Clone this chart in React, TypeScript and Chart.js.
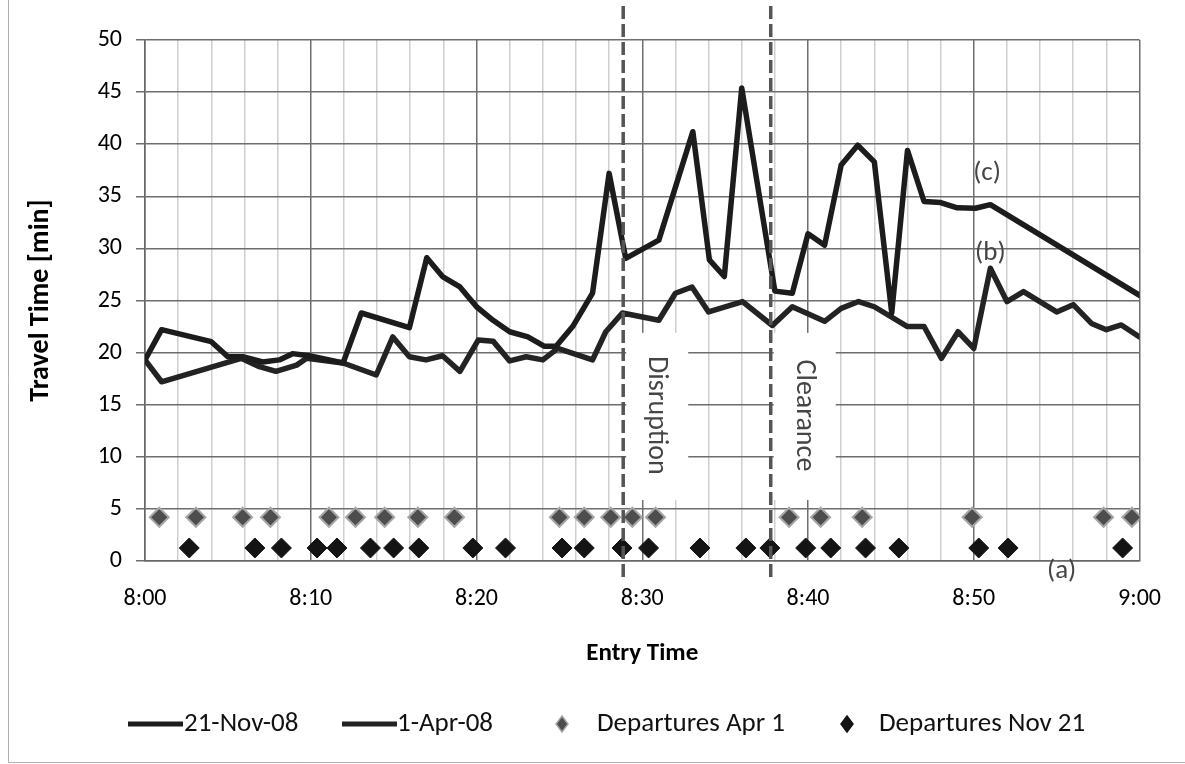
import React, { useEffect, useRef } from 'react';
import { Chart, registerables } from 'chart.js';

Chart.register(...registerables);

const FONT = "Carlito, Lato, 'Open Sans', sans-serif";

// Series names, in legend order
const seriesNames = ['21-Nov-08', '1-Apr-08', 'Departures Apr 1', 'Departures Nov 21'];

// Entry time (minutes after 8:00) and travel time (min), 21-Nov-08
const nov21Minutes = [0, 1.0, 4.0, 5.0, 5.9, 7.1, 8.1, 8.9, 9.9, 11.95, 13.05, 15.95, 17.0, 17.95, 19.0, 20.0, 21.0, 22.0, 23.1, 24.1, 24.8, 25.8, 27.0, 28.0, 29.0, 31.0, 33.05, 34.05, 34.95, 36.0, 38.0, 39.05, 40.0, 41.0, 42.0, 43.0, 44.0, 45.05, 46.0, 47.0, 48.0, 49.0, 50.1, 51.0, 60.0];
const nov21Travel = [19.3, 22.2, 21.05, 19.6, 19.6, 19.1, 19.3, 19.9, 19.7, 19.0, 23.8, 22.4, 29.1, 27.3, 26.3, 24.4, 23.1, 22.0, 21.5, 20.6, 20.6, 22.5, 25.7, 37.2, 29.05, 30.8, 41.2, 28.9, 27.3, 45.4, 25.9, 25.7, 31.4, 30.3, 38.0, 39.9, 38.3, 23.8, 39.4, 34.5, 34.4, 33.9, 33.85, 34.2, 25.5];

// Entry time (minutes after 8:00) and travel time (min), 1-Apr-08
const apr1Minutes = [0, 1.0, 5.8, 6.9, 7.9, 9.15, 9.75, 11.95, 13.95, 14.95, 15.95, 16.95, 17.95, 19.0, 20.1, 21.0, 22.0, 23.0, 24.0, 24.9, 27.0, 27.8, 28.8, 31.0, 32.0, 33.0, 34.0, 36.05, 37.85, 39.05, 41.0, 42.0, 43.05, 44.0, 46.0, 47.0, 48.05, 49.05, 50.0, 51.0, 52.0, 53.0, 55.0, 56.0, 57.1, 58.0, 58.9, 60.0];
const apr1Travel = [19.3, 17.2, 19.45, 18.65, 18.2, 18.8, 19.45, 19.0, 17.85, 21.5, 19.6, 19.3, 19.7, 18.2, 21.2, 21.1, 19.2, 19.6, 19.3, 20.4, 19.3, 22.0, 23.8, 23.1, 25.7, 26.3, 23.9, 24.9, 22.6, 24.4, 23.0, 24.25, 24.9, 24.4, 22.5, 22.5, 19.45, 22.0, 20.4, 28.1, 24.9, 25.85, 23.9, 24.6, 22.8, 22.2, 22.65, 21.5];

// Departure times (minutes after 8:00)
const departuresApr1 = [0.86, 3.07, 5.89, 7.57, 11.1, 12.7, 14.46, 16.46, 18.67, 25.0, 26.5, 28.1, 29.4, 30.8, 38.86, 40.76, 43.27, 49.9, 57.83, 59.54];
const departuresNov21 = [2.67, 6.63, 8.23, 10.38, 11.58, 13.6, 15.0, 16.52, 19.78, 21.75, 25.16, 26.5, 28.78, 30.38, 33.48, 36.25, 37.7, 39.86, 41.37, 43.47, 45.48, 50.3, 52.07, 58.98];
const departureLevelApr1 = 4.2;
const departureLevelNov21 = 1.25;

// Axis labels
const xTickLabels = ['8:00', '8:10', '8:20', '8:30', '8:40', '8:50', '9:00'];
const xTitle = 'Entry Time';
const yTitle = 'Travel Time [min]';

// Incident events (minutes after 8:00)
const eventNames = ['Disruption', 'Clearance'];
const eventMinutes = [28.85, 37.75];

// Curve tags
const tagTexts = ['(c)', '(b)', '(a)'];
const tagMinutes = [50.8, 51.0, 55.3];
const tagValues = [37.2, 29.5, -1.0];

const toPoints = (xs: number[], ys: number[]) => xs.map((x, i) => ({ x, y: ys[i] }));

const overlayPlugin = {
  id: 'overlay',
  beforeDatasetsDraw(chart: any) {
    const { ctx, scales } = chart;
    const x = scales.x;
    const y = scales.y;
    const top = y.getPixelForValue(21.9);
    const bottom = y.getPixelForValue(5.85);
    ctx.save();
    eventMinutes.forEach((m, i) => {
      const px = x.getPixelForValue(m);
      ctx.fillStyle = '#ffffff';
      ctx.fillRect(px + 3, top, 62, bottom - top);
      ctx.save();
      ctx.translate(px + 33, (top + bottom) / 2 - 1);
      ctx.rotate(Math.PI / 2);
      ctx.fillStyle = '#454545';
      ctx.font = `28px ${FONT}`;
      ctx.textAlign = 'center';
      ctx.textBaseline = 'middle';
      ctx.fillText(eventNames[i], 0, 0);
      ctx.restore();
    });
    ctx.restore();
  },
  afterDatasetsDraw(chart: any) {
    const { ctx, scales } = chart;
    const x = scales.x;
    const y = scales.y;
    ctx.save();
    ctx.strokeStyle = '#555555';
    ctx.lineWidth = 3.5;
    ctx.setLineDash([13, 5]);
    eventMinutes.forEach((m) => {
      const px = x.getPixelForValue(m);
      ctx.beginPath();
      ctx.moveTo(px, 6);
      ctx.lineTo(px, 578);
      ctx.stroke();
    });
    ctx.setLineDash([]);
    ctx.fillStyle = '#454545';
    ctx.font = `27px ${FONT}`;
    ctx.textAlign = 'center';
    ctx.textBaseline = 'middle';
    tagTexts.forEach((t, i) => {
      ctx.fillText(t, x.getPixelForValue(tagMinutes[i]), y.getPixelForValue(tagValues[i]));
    });
    ctx.restore();
  },
  afterDraw(chart: any) {
    const { ctx } = chart;
    const ds = chart.data.datasets;
    const ly = 724;
    ctx.save();
    ctx.font = `27px ${FONT}`;
    ctx.textBaseline = 'middle';
    ctx.textAlign = 'left';
    const lineItems = [
      { i: 0, x0: 128, x1: 183, tx: 184 },
      { i: 1, x0: 342, x1: 397, tx: 397 },
    ];
    lineItems.forEach((it) => {
      ctx.strokeStyle = ds[it.i].borderColor;
      ctx.lineWidth = 5;
      ctx.beginPath();
      ctx.moveTo(it.x0, ly);
      ctx.lineTo(it.x1, ly);
      ctx.stroke();
      ctx.fillStyle = '#111111';
      ctx.fillText(ds[it.i].label, it.tx, ly);
    });
    const markItems = [
      { i: 2, cx: 562, tx: 597 },
      { i: 3, cx: 847, tx: 879 },
    ];
    markItems.forEach((it) => {
      ctx.beginPath();
      ctx.moveTo(it.cx, ly - 8);
      ctx.lineTo(it.cx + 6, ly);
      ctx.lineTo(it.cx, ly + 8);
      ctx.lineTo(it.cx - 6, ly);
      ctx.closePath();
      ctx.fillStyle = ds[it.i].backgroundColor;
      ctx.fill();
      ctx.strokeStyle = ds[it.i].borderColor;
      ctx.lineWidth = 1.5;
      ctx.stroke();
      ctx.fillStyle = '#111111';
      ctx.fillText(ds[it.i].label, it.tx, ly);
    });
    // chart frame
    ctx.strokeStyle = '#b0b0b0';
    ctx.lineWidth = 1;
    ctx.beginPath();
    ctx.moveTo(8.5, 0);
    ctx.lineTo(8.5, 762.5);
    ctx.lineTo(1185, 762.5);
    ctx.stroke();
    ctx.restore();
  },
};

export default function App() {
  const canvasRef = useRef<HTMLCanvasElement | null>(null);

  useEffect(() => {
    const canvas = canvasRef.current;
    if (!canvas) return;
    const chart = new Chart(canvas, {
      type: 'scatter',
      data: {
        datasets: [
          {
            label: seriesNames[0],
            data: toPoints(nov21Minutes, nov21Travel),
            showLine: true,
            borderColor: '#1c1c1c',
            backgroundColor: '#1c1c1c',
            borderWidth: 5.5,
            pointRadius: 0,
            borderJoinStyle: 'round',
            borderCapStyle: 'round',
            tension: 0,
          },
          {
            label: seriesNames[1],
            data: toPoints(apr1Minutes, apr1Travel),
            showLine: true,
            borderColor: '#232323',
            backgroundColor: '#232323',
            borderWidth: 5.5,
            pointRadius: 0,
            borderJoinStyle: 'round',
            borderCapStyle: 'round',
            tension: 0,
          },
          {
            label: seriesNames[2],
            data: departuresApr1.map((m) => ({ x: m, y: departureLevelApr1 })),
            pointStyle: 'rectRot',
            pointRadius: 9.5,
            backgroundColor: '#4d4d4d',
            borderColor: '#a6a6a6',
            borderWidth: 2,
          },
          {
            label: seriesNames[3],
            data: departuresNov21.map((m) => ({ x: m, y: departureLevelNov21 })),
            pointStyle: 'rectRot',
            pointRadius: 10,
            backgroundColor: '#141414',
            borderColor: '#141414',
            borderWidth: 1,
          },
        ],
      } as any,
      options: {
        animation: false,
        responsive: false,
        devicePixelRatio: 1,
        layout: { padding: { left: 24, right: 44, top: 40, bottom: 95 } },
        plugins: {
          legend: { display: false },
          tooltip: { enabled: false },
        },
        scales: {
          x: {
            type: 'linear',
            min: 0,
            max: 60,
            afterFit: (s: any) => {
              s.height = 108;
            },
            ticks: {
              stepSize: 2,
              autoSkip: false,
              maxRotation: 0,
              padding: 24,
              color: '#000000',
              font: { family: FONT, size: 24 },
              callback: (v: any) => (Number(v) % 10 === 0 ? xTickLabels[Number(v) / 10] : ''),
            },
            grid: {
              color: (c: any) => (c.tick && c.tick.value % 10 === 0 ? '#6e6e6e' : '#cfcfcf'),
              lineWidth: 1.5,
              drawTicks: false,
            },
            border: { color: '#666666', width: 1.5 },
            title: {
              display: true,
              text: xTitle,
              color: '#000000',
              font: { family: FONT, size: 25, weight: 'bold' },
              padding: 0,
            },
          },
          y: {
            min: 0,
            max: 50,
            afterFit: (s: any) => {
              s.width = 121;
            },
            ticks: {
              stepSize: 5,
              padding: 14,
              color: '#000000',
              font: { family: FONT, size: 24 },
            },
            grid: {
              color: '#6e6e6e',
              lineWidth: 1.5,
              tickLength: 9,
            },
            border: { color: '#666666', width: 1.5 },
            title: {
              display: true,
              text: yTitle,
              color: '#000000',
              font: { family: FONT, size: 28, weight: 'bold' },
              padding: { top: 0, bottom: 20 },
            },
          },
        },
      } as any,
      plugins: [overlayPlugin],
    });
    return () => chart.destroy();
  }, []);

  return (
    <div style={{ position: 'fixed', left: 0, top: 0, width: 1185, height: 764, background: '#ffffff' }}>
      <canvas ref={canvasRef} width={1185} height={764} style={{ display: 'block' }} />
    </div>
  );
}
